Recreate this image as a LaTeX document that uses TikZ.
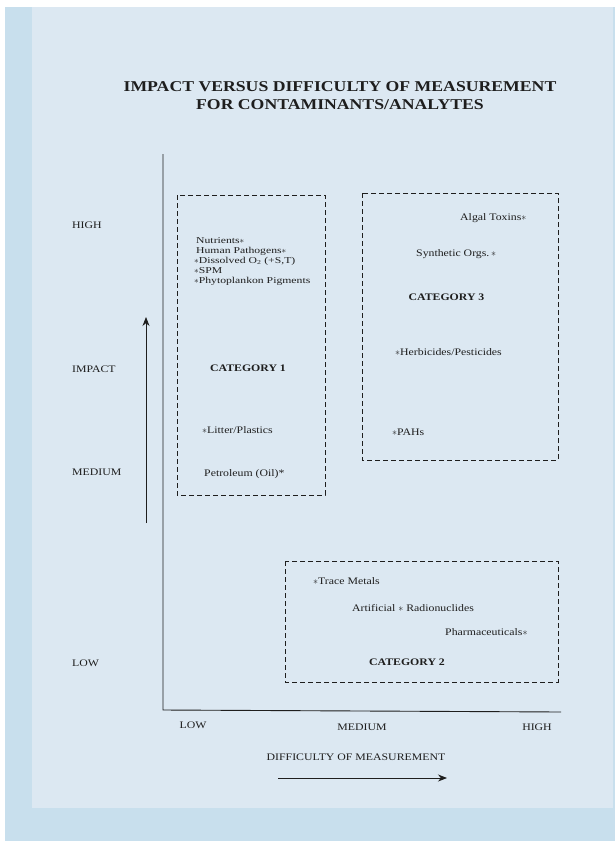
\documentclass[tikz,border=0pt]{standalone}
\usepackage{fontspec}
\setmainfont[FakeStretch=1.18]{Liberation Serif}
\usetikzlibrary{arrows.meta}
\definecolor{outerblue}{HTML}{C8DFED}
\definecolor{panelblue}{HTML}{DCE8F2}
\definecolor{ink}{HTML}{1E1E1E}
\tikzset{
  lbl/.style={inner sep=0pt, text=ink, font=\fontsize{10}{9.3}\selectfont},
  lblw/.style={lbl, anchor=base west},
  lblc/.style={lbl, anchor=base},
  lst/.style={inner sep=0pt, text=ink, anchor=base west, font=\fontsize{9}{9}\selectfont\addfontfeature{FakeStretch=1.3}},
  cat/.style={lbl, anchor=base, font=\fontsize{10}{9.3}\selectfont\bfseries},
  ttl/.style={inner sep=0pt, anchor=base, text=ink, font=\fontsize{15}{18}\selectfont\bfseries},
  catbox/.style={draw=ink, line width=0.9pt, dash pattern=on 5pt off 3pt},
  axis/.style={draw=ink, line width=0.9pt},
  bigarrow/.style={draw=ink, line width=0.8pt, -{Stealth[length=9pt,width=7pt]}}
}
\begin{document}
\begin{tikzpicture}[x=1pt,y=-1pt]
\useasboundingbox (0,0) rectangle (615,841);
\fill[white] (0,0) rectangle (615,841);
\fill[outerblue] (5,7) rectangle (615,841);
\fill[panelblue] (32,7) rectangle (613,808);

% title
\node[ttl] (t1) at (340,91) {IMPACT VERSUS DIFFICULTY OF MEASUREMENT};
\node[ttl] (t2) at (340,109) {FOR CONTAMINANTS/ANALYTES};

% axes
\coordinate (ytop) at (163,154);
\coordinate (orig) at (163,710);
\coordinate (xend) at (561,712);
\draw[axis] (ytop) -- (orig) -- (xend);

% left labels
\node[lblw] (yh) at (72,228.5) {HIGH};
\node[lblw] (yi) at (72,372.5) {IMPACT};
\node[lblw] (ym) at (72,475.5) {MEDIUM};
\node[lblw] (yl) at (72,666.5) {LOW};
\coordinate (ua0) at (146,523);
\coordinate (ua1) at (146,317);
\draw[bigarrow] (ua0) -- (ua1);

% bottom labels
\node[lblc] (xl) at (193,728.5) {LOW};
\node[lblc] (xm) at (362,730.5) {MEDIUM};
\node[lblc] (xh) at (537,730.5) {HIGH};
\node[lblc] (xt) at (356,760) {DIFFICULTY OF MEASUREMENT};
\coordinate (ra0) at (278,778);
\coordinate (ra1) at (447,778);
\draw[bigarrow] (ra0) -- (ra1);

% category boxes
\draw[catbox] (177,195) rectangle (325,495);
\draw[catbox] (362,193) rectangle (558,460);
\draw[catbox] (285,561) rectangle (558,682);

% category 1
\node[lst] (c1a) at (196,243) {Nutrients$\ast$};
\node[lst] (c1b) at (196,253) {Human Pathogens$\ast$};
\node[lst] (c1c) at (194,263) {$\ast$Dissolved O\textsubscript{2} (+S,T)};
\node[lst] (c1d) at (194,273) {$\ast$SPM};
\node[lst] (c1e) at (194,283) {$\ast$Phytoplankon Pigments};
\node[cat] (c1) at (248,371.5) {CATEGORY 1};
\node[lblw] (c1f) at (202,433.5) {$\ast$Litter/Plastics};
\node[lblw] (c1g) at (204,476.5) {Petroleum (Oil)*};

% category 3
\node[lblw] (c3a) at (460,220.5) {Algal Toxins$\ast$};
\node[lblw] (c3b) at (416,256.5) {Synthetic Orgs.$\,\ast$};
\node[cat] (c3) at (446.5,300.5) {CATEGORY 3};
\node[lblw] (c3c) at (395,355.5) {$\ast$Herbicides/Pesticides};
\node[lblw] (c3d) at (392,435.5) {$\ast$PAHs};

% category 2
\node[lblw] (c2a) at (313,584.5) {$\ast$Trace Metals};
\node[lblw] (c2b) at (352,611.5) {Artificial $\ast$ Radionuclides};
\node[lblw] (c2c) at (445,635.5) {Pharmaceuticals$\ast$};
\node[cat] (c2) at (407,665.5) {CATEGORY 2};
\end{tikzpicture}
\end{document}
